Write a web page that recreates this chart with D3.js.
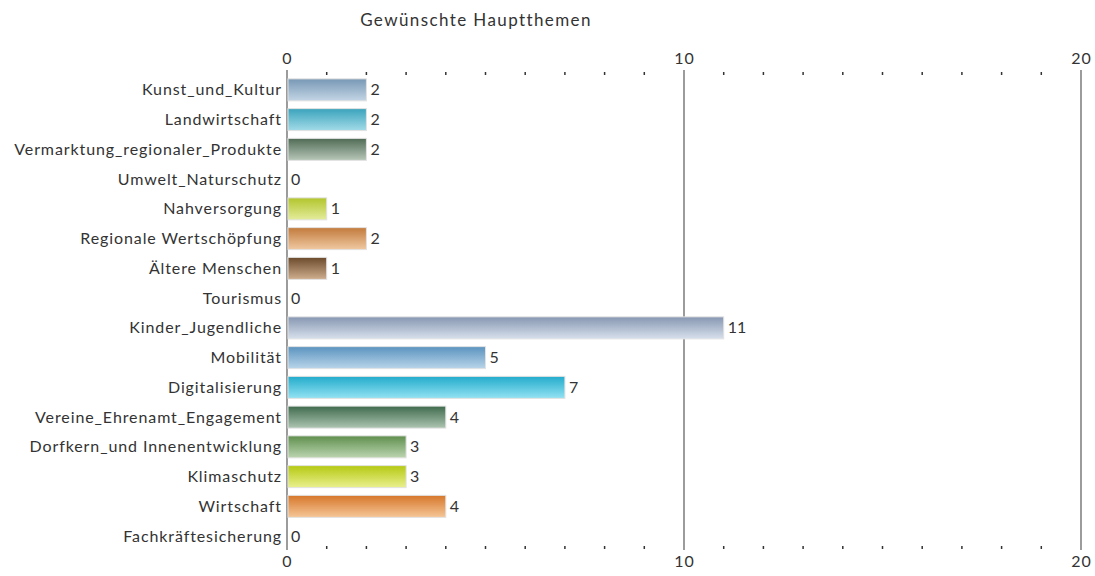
<!DOCTYPE html>
<html>
<head>
<meta charset="utf-8">
<script src="https://cdn.jsdelivr.net/npm/d3@7"></script>
<style>
  body { margin: 0; background: #fff; }
  svg text { font-family: Lato, 'Open Sans', sans-serif; fill: #333; }
</style>
</head>
<body>
<div id="chart"></div>
<script>
// themes, top to bottom
const topics = ['Kunst_und_Kultur', 'Landwirtschaft', 'Vermarktung_regionaler_Produkte', 'Umwelt_Naturschutz',
  'Nahversorgung', 'Regionale Wertschöpfung', 'Ältere Menschen', 'Tourismus', 'Kinder_Jugendliche', 'Mobilität',
  'Digitalisierung', 'Vereine_Ehrenamt_Engagement', 'Dorfkern_und Innenentwicklung', 'Klimaschutz', 'Wirtschaft',
  'Fachkräftesicherung']
const counts = [2, 2, 2, 0, 1, 2, 1, 0, 11, 5, 7, 4, 3, 3, 4, 0]
// gradient top / bottom colour per bar
const topColors = ['#7898b5', '#3aa3bc', '#4f6b55', '#8a9a9a', '#b2c52c', '#c27a3c', '#6a4a2b', '#999', '#8797b2',
  '#5b93bf', '#22abcc', '#3f6a4c', '#5f8f4d', '#b5c912', '#d6772b', '#999']
const bottomColors = ['#c3d5e5', '#a3dbe8', '#b8c7b9', '#ccc', '#e4ec9c', '#f0c9a2', '#cfae8e', '#ccc', '#d7e0ec',
  '#b9d5ea', '#93e2f2', '#adc5b2', '#bcd5b1', '#e9f08e', '#f6c697', '#ccc']
const majorTicks = [0, 10, 20]
const title = 'Gewünschte Hauptthemen'

const width = 1095
const height = 576

const x = d3.scaleLinear().domain([0, 20]).range([287, 1081])
const y = d3.scaleBand().domain(topics).range([75, 551]).paddingInner(0.26).paddingOuter(0.13)

const svg = d3.select('#chart').append('svg')
  .attr('width', width)
  .attr('height', height)

const defs = svg.append('defs')
topics.forEach((t, i) => {
  const g = defs.append('linearGradient')
    .attr('id', 'grad' + i)
    .attr('x1', 0).attr('y1', 0).attr('x2', 0).attr('y2', 1)
  g.append('stop').attr('offset', '0%').attr('stop-color', topColors[i])
  g.append('stop').attr('offset', '100%').attr('stop-color', bottomColors[i])
})

svg.append('text')
  .attr('x', 476)
  .attr('y', 26)
  .attr('text-anchor', 'middle')
  .style('font-size', '17px')
  .style('letter-spacing', '1.4px')
  .text(title)

// vertical grid lines at the major ticks
svg.append('g').selectAll('line')
  .data(majorTicks)
  .enter().append('line')
  .attr('x1', d => x(d))
  .attr('x2', d => x(d))
  .attr('y1', 70)
  .attr('y2', 550)
  .attr('stroke', '#666')
  .attr('stroke-width', 1.3)

const minor = d3.range(1, 20).filter(d => d !== 10)

// top axis
const topAxis = svg.append('g')
  .attr('transform', 'translate(0,72)')
  .call(d3.axisTop(x).tickValues(majorTicks).tickSize(0).tickPadding(8))
topAxis.select('.domain').remove()
topAxis.selectAll('text').style('font-size', '16px').style('letter-spacing', '1px').attr('fill', '#333')
svg.append('g').selectAll('line')
  .data(minor)
  .enter().append('line')
  .attr('x1', d => x(d)).attr('x2', d => x(d))
  .attr('y1', 72).attr('y2', 75)
  .attr('stroke', '#333').attr('stroke-width', 1.5)

// bottom axis
const bottomAxis = svg.append('g')
  .attr('transform', 'translate(0,550)')
  .call(d3.axisBottom(x).tickValues(majorTicks).tickSize(0).tickPadding(6))
bottomAxis.select('.domain').remove()
bottomAxis.selectAll('text').style('font-size', '16px').style('letter-spacing', '1px').attr('fill', '#333')
svg.append('g').selectAll('line')
  .data(minor)
  .enter().append('line')
  .attr('x1', d => x(d)).attr('x2', d => x(d))
  .attr('y1', 546).attr('y2', 549)
  .attr('stroke', '#333').attr('stroke-width', 1.5)

// bars
svg.append('g').selectAll('rect')
  .data(topics)
  .enter().append('rect')
  .attr('x', x(0) + 1)
  .attr('y', d => y(d))
  .attr('width', (d, i) => Math.max(0, x(counts[i]) - x(0) - 1))
  .attr('height', y.bandwidth())
  .attr('fill', (d, i) => `url(#grad${i})`)
  .attr('stroke', '#e2e2e2')
  .attr('stroke-width', 1)
  .style('display', (d, i) => counts[i] > 0 ? null : 'none')

// category labels
svg.append('g').selectAll('text')
  .data(topics)
  .enter().append('text')
  .attr('x', x(0) - 5)
  .attr('y', d => y(d) + y.bandwidth() / 2)
  .attr('dy', '0.35em')
  .attr('text-anchor', 'end')
  .style('font-size', '16px')
  .style('letter-spacing', '0.9px')
  .text(d => d)

// value labels
svg.append('g').selectAll('text')
  .data(topics)
  .enter().append('text')
  .attr('x', (d, i) => x(counts[i]) + 4)
  .attr('y', d => y(d) + y.bandwidth() / 2)
  .attr('dy', '0.35em')
  .style('font-size', '16px')
  .text((d, i) => counts[i])
</script>
</body>
</html>
